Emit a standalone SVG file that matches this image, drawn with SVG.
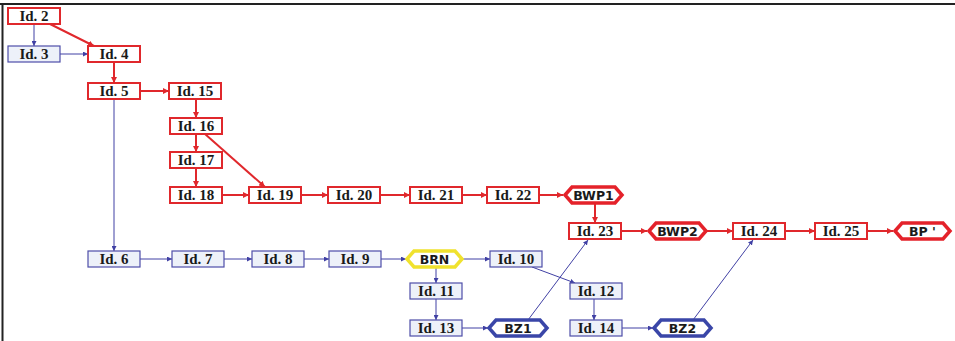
<svg xmlns="http://www.w3.org/2000/svg" width="955" height="341" viewBox="0 0 955 341">
<style>
.rb{fill:#fff;stroke:#e0282c;stroke-width:2}
.bb{fill:#edf1f9;stroke:#4e4ea8;stroke-width:1.2}
.rh{fill:#fff;stroke:#e4222a;stroke-width:3.5;stroke-linejoin:miter}
.bh{fill:#fff;stroke:#3a46a8;stroke-width:3.5}
.yh{fill:#fff;stroke:#f0e22e;stroke-width:3.5}
.t{font-family:"Liberation Serif",serif;font-weight:bold;font-size:15px;fill:#1a1a1a;text-anchor:middle}
.s{font-family:"DejaVu Sans",sans-serif;font-weight:bold;font-size:12.5px;fill:#1a1a1a;text-anchor:middle}
.rl{stroke:#e0282c;stroke-width:2;fill:none;marker-end:url(#ar)}
.bl{stroke:#4040a4;stroke-width:1;fill:none;marker-end:url(#ab)}
</style>
<defs>
<marker id="ar" markerUnits="userSpaceOnUse" markerWidth="7" markerHeight="6" refX="6" refY="3" orient="auto"><path d="M0,0 L6,3 L0,6 Z" fill="#e0282c"/></marker>
<marker id="ab" markerUnits="userSpaceOnUse" markerWidth="6" markerHeight="5" refX="5" refY="2.5" orient="auto"><path d="M0,0 L5,2.5 L0,5 Z" fill="#4040a4"/></marker>
</defs>
<path d="M0,4 H955 M2.5,4 V341" stroke="#222" stroke-width="2" fill="none"/>
<g id="connectors">
<path class="bl" d="M34,24 L34,46"/>
<path class="bl" d="M60,54 L88,54"/>
<path class="bl" d="M114,99 L114,251"/>
<path class="bl" d="M140,259 L172,259"/>
<path class="bl" d="M224,259 L252,259"/>
<path class="bl" d="M304,259 L329,259"/>
<path class="bl" d="M381,259 L406,259"/>
<path class="bl" d="M463,259 L490,259"/>
<path class="bl" d="M436,267 L436,283"/>
<path class="bl" d="M436,299 L436,320"/>
<path class="bl" d="M532,267 L575,283"/>
<path class="bl" d="M594,299 L594,320"/>
<path class="bl" d="M462,328 L488,328"/>
<path class="bl" d="M622,328 L653,328"/>
<path class="bl" d="M528,320 L588,240"/>
<path class="bl" d="M693,320 L753,240"/>
<path class="rl" d="M50,24 L94,46"/>
<path class="rl" d="M114,62 L114,83"/>
<path class="rl" d="M140,91 L169,91"/>
<path class="rl" d="M196,99 L196,118"/>
<path class="rl" d="M196,134 L196,152"/>
<path class="rl" d="M205,134 L265,187"/>
<path class="rl" d="M196,168 L196,187"/>
<path class="rl" d="M222,195 L249,195"/>
<path class="rl" d="M301,195 L328,195"/>
<path class="rl" d="M380,195 L410,195"/>
<path class="rl" d="M462,195 L487,195"/>
<path class="rl" d="M539,195 L563,195"/>
<path class="rl" d="M595,203 L595,223"/>
<path class="rl" d="M621,231 L647,231"/>
<path class="rl" d="M707,231 L733,231"/>
<path class="rl" d="M785,231 L815,231"/>
<path class="rl" d="M867,231 L893,231"/>
</g>
<g id="n2"><rect class="rb" x="8" y="8" width="52" height="16"/><text class="t" x="34" y="21">Id. 2</text></g>
<g id="n3"><rect class="bb" x="8" y="46" width="52" height="16"/><text class="t" x="34" y="59">Id. 3</text></g>
<g id="n4"><rect class="rb" x="88" y="46" width="52" height="16"/><text class="t" x="114" y="59">Id. 4</text></g>
<g id="n5"><rect class="rb" x="88" y="83" width="52" height="16"/><text class="t" x="114" y="96">Id. 5</text></g>
<g id="n15"><rect class="rb" x="169" y="83" width="52" height="16"/><text class="t" x="195" y="96">Id. 15</text></g>
<g id="n16"><rect class="rb" x="170" y="118" width="52" height="16"/><text class="t" x="196" y="131">Id. 16</text></g>
<g id="n17"><rect class="rb" x="170" y="152" width="52" height="16"/><text class="t" x="196" y="165">Id. 17</text></g>
<g id="n18"><rect class="rb" x="170" y="187" width="52" height="16"/><text class="t" x="196" y="200">Id. 18</text></g>
<g id="n19"><rect class="rb" x="249" y="187" width="52" height="16"/><text class="t" x="275" y="200">Id. 19</text></g>
<g id="n20"><rect class="rb" x="328" y="187" width="52" height="16"/><text class="t" x="354" y="200">Id. 20</text></g>
<g id="n21"><rect class="rb" x="410" y="187" width="52" height="16"/><text class="t" x="436" y="200">Id. 21</text></g>
<g id="n22"><rect class="rb" x="487" y="187" width="52" height="16"/><text class="t" x="513" y="200">Id. 22</text></g>
<g id="bwp1"><path class="rh" d="M565,195 L572,187 L615,187 L622,195 L615,203 L572,203 Z"/><text class="s" x="593.5" y="199.5">BWP1</text></g>
<g id="n23"><rect class="rb" x="569" y="223" width="52" height="16"/><text class="t" x="595" y="236">Id. 23</text></g>
<g id="bwp2"><path class="rh" d="M649,231 L656,223 L699,223 L706,231 L699,239 L656,239 Z"/><text class="s" x="677.5" y="235.5">BWP2</text></g>
<g id="n24"><rect class="rb" x="733" y="223" width="52" height="16"/><text class="t" x="759" y="236">Id. 24</text></g>
<g id="n25"><rect class="rb" x="815" y="223" width="52" height="16"/><text class="t" x="841" y="236">Id. 25</text></g>
<g id="bp"><path class="rh" d="M895,231 L902,223 L943,223 L950,231 L943,239 L902,239 Z"/><text class="s" x="922.5" y="235.5">BP '</text></g>
<g id="n6"><rect class="bb" x="88" y="251" width="52" height="16"/><text class="t" x="114" y="264">Id. 6</text></g>
<g id="n7"><rect class="bb" x="172" y="251" width="52" height="16"/><text class="t" x="198" y="264">Id. 7</text></g>
<g id="n8"><rect class="bb" x="252" y="251" width="52" height="16"/><text class="t" x="278" y="264">Id. 8</text></g>
<g id="n9"><rect class="bb" x="329" y="251" width="52" height="16"/><text class="t" x="355" y="264">Id. 9</text></g>
<g id="brn"><path class="yh" d="M407,259 L414,251 L455,251 L462,259 L455,267 L414,267 Z"/><text class="s" x="434.5" y="263.5">BRN</text></g>
<g id="n10"><rect class="bb" x="490" y="251" width="52" height="16"/><text class="t" x="516" y="264">Id. 10</text></g>
<g id="n11"><rect class="bb" x="410" y="283" width="52" height="16"/><text class="t" x="436" y="296">Id. 11</text></g>
<g id="n13"><rect class="bb" x="410" y="320" width="52" height="16"/><text class="t" x="436" y="333">Id. 13</text></g>
<g id="bz1"><path class="bh" d="M489,328 L496,320 L540,320 L547,328 L540,336 L496,336 Z"/><text class="s" x="518" y="332.5">BZ1</text></g>
<g id="n12"><rect class="bb" x="570" y="283" width="52" height="16"/><text class="t" x="596" y="296">Id. 12</text></g>
<g id="n14"><rect class="bb" x="570" y="320" width="52" height="16"/><text class="t" x="596" y="333">Id. 14</text></g>
<g id="bz2"><path class="bh" d="M654,328 L661,320 L704,320 L711,328 L704,336 L661,336 Z"/><text class="s" x="682.5" y="332.5">BZ2</text></g>
</svg>
